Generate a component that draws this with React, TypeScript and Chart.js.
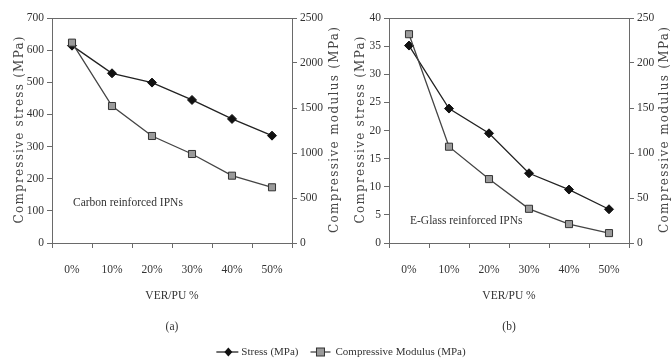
import React, { useEffect, useRef } from 'react';
import { Chart, registerables } from 'chart.js';
Chart.register(...registerables);

const categories = ['0%', '10%', '20%', '30%', '40%', '50%'];
const carbonStress = [614, 528, 499, 445, 386, 334];
const carbonModulus = [2226, 1522, 1189, 989, 748, 619];
const glassStress = [35.1, 23.9, 19.5, 12.4, 9.5, 6.0];
const glassModulus = [232, 107, 71, 38, 21, 11];

const stressLabel = 'Stress (MPa)';
const modulusLabel = 'Compressive Modulus (MPa)';
const stressTitle = 'Compressive stress (MPa)';
const modulusTitle = 'Compressive modulus (MPa)';
const xTitle = 'VER/PU %';

const W = 672;
const H = 363;
const AXIS = '#6a6a6a';
const TEXT = '#333';
const SERIF = '"Liberation Serif", "Times New Roman", serif';
const TICK_FONT = { family: SERIF, size: 11.5 };

type Panel = {
  stress: number[];
  modulus: number[];
  stressMax: number;
  stressStep: number;
  modMax: number;
  modStep: number;
  note: string;
  noteDy: number;
  caption: string;
  pad: { left: number; right: number };
  yW: number;
  y1W: number;
  leftTitleX: number;
  rightTitleX: number;
  legend: boolean;
};

const panels: Panel[] = [
  {
    stress: carbonStress,
    modulus: carbonModulus,
    stressMax: 700,
    stressStep: 100,
    modMax: 2500,
    modStep: 500,
    note: 'Carbon reinforced IPNs',
    noteDy: 40,
    caption: '(a)',
    pad: { left: 0, right: W - 345 },
    yW: 52,
    y1W: 53,
    leftTitleX: 20,
    rightTitleX: 335,
    legend: true,
  },
  {
    stress: glassStress,
    modulus: glassModulus,
    stressMax: 40,
    stressStep: 5,
    modMax: 250,
    modStep: 50,
    note: 'E-Glass reinforced IPNs',
    noteDy: 22,
    caption: '(b)',
    pad: { left: 345, right: 0 },
    yW: 44,
    y1W: 43,
    leftTitleX: 361,
    rightTitleX: 665,
    legend: false,
  },
];

function drawVertical(ctx: CanvasRenderingContext2D, text: string, x: number, cy: number, len: number) {
  ctx.save();
  ctx.translate(x, cy);
  ctx.rotate(-Math.PI / 2);
  ctx.font = '12px "DejaVu Serif", serif';
  (ctx as any).letterSpacing = '0px';
  const w = ctx.measureText(text).width;
  const sp = Math.max(0, (len - w) / (text.length - 1));
  (ctx as any).letterSpacing = sp + 'px';
  ctx.textAlign = 'center';
  ctx.textBaseline = 'middle';
  ctx.fillStyle = '#444';
  ctx.fillText(text, sp / 2, 0);
  ctx.restore();
}

function drawLegend(ctx: CanvasRenderingContext2D) {
  const y = 352;
  ctx.save();
  ctx.font = `11px ${SERIF}`;
  const w1 = ctx.measureText(stressLabel).width;
  const w2 = ctx.measureText(modulusLabel).width;
  const total = 22 + 3 + w1 + 12 + 20 + 5 + w2;
  let x = 341 - total / 2;

  ctx.strokeStyle = '#222';
  ctx.lineWidth = 1.3;
  ctx.beginPath();
  ctx.moveTo(x, y);
  ctx.lineTo(x + 22, y);
  ctx.stroke();
  ctx.fillStyle = '#111';
  const d = x + 12;
  ctx.beginPath();
  ctx.moveTo(d, y - 4.5);
  ctx.lineTo(d + 4, y);
  ctx.lineTo(d, y + 4.5);
  ctx.lineTo(d - 4, y);
  ctx.closePath();
  ctx.fill();
  ctx.fillStyle = TEXT;
  ctx.textAlign = 'left';
  ctx.textBaseline = 'middle';
  x += 25;
  ctx.fillText(stressLabel, x, y);
  x += w1 + 12;

  ctx.strokeStyle = '#444';
  ctx.beginPath();
  ctx.moveTo(x, y);
  ctx.lineTo(x + 20, y);
  ctx.stroke();
  ctx.fillStyle = '#9a9a9a';
  ctx.fillRect(x + 6, y - 4, 8, 8);
  ctx.strokeStyle = '#333';
  ctx.lineWidth = 1;
  ctx.strokeRect(x + 6, y - 4, 8, 8);
  x += 25;
  ctx.fillStyle = TEXT;
  ctx.fillText(modulusLabel, x, y);
  ctx.restore();
}

function makeDecor(p: Panel) {
  return {
    id: 'decor',
    afterDraw(chart: any) {
      const { ctx, chartArea: a } = chart;
      ctx.save();
      ctx.strokeStyle = AXIS;
      ctx.lineWidth = 1;
      ctx.beginPath();
      ctx.moveTo(a.left, Math.round(a.top) + 0.5);
      ctx.lineTo(a.right, Math.round(a.top) + 0.5);
      ctx.stroke();

      ctx.fillStyle = TEXT;
      ctx.font = `11.5px ${SERIF}`;
      ctx.textAlign = 'left';
      ctx.textBaseline = 'middle';
      ctx.fillText(p.note, a.left + 21, a.bottom - p.noteDy);

      const cx = (a.left + a.right) / 2;
      ctx.font = `11.5px ${SERIF}`;
      ctx.textAlign = 'center';
      ctx.fillText(xTitle, cx, 296);
      ctx.fillText(p.caption, cx, 327);
      ctx.restore();

      drawVertical(ctx, stressTitle, p.leftTitleX, 130, 187);
      drawVertical(ctx, modulusTitle, p.rightTitleX, 130, 206);
      if (p.legend) drawLegend(ctx);
    },
  };
}

function makeConfig(p: Panel): any {
  const gridCommon = {
    display: true,
    drawOnChartArea: false,
    drawTicks: true,
    tickLength: 5,
    color: AXIS,
  };
  const fmt = (v: any) => String(v);
  return {
    type: 'line',
    data: {
      labels: categories,
      datasets: [
        {
          label: modulusLabel,
          data: p.modulus,
          yAxisID: 'y1',
          borderColor: '#444',
          borderWidth: 1.3,
          pointStyle: 'rect',
          pointRadius: 5,
          pointBackgroundColor: '#9a9a9a',
          pointBorderColor: '#333',
          pointBorderWidth: 1,
          tension: 0,
        },
        {
          label: stressLabel,
          data: p.stress,
          yAxisID: 'y',
          borderColor: '#222',
          borderWidth: 1.3,
          pointStyle: 'rectRot',
          pointRadius: 4.5,
          pointBackgroundColor: '#111',
          pointBorderColor: '#111',
          pointBorderWidth: 1,
          tension: 0,
        },
      ],
    },
    options: {
      responsive: false,
      animation: false,
      devicePixelRatio: 1,
      layout: { padding: { left: p.pad.left, right: p.pad.right, top: 18, bottom: 0 } },
      plugins: { legend: { display: false }, tooltip: { enabled: false } },
      scales: {
        x: {
          type: 'category',
          offset: true,
          grid: { ...gridCommon, offset: true },
          border: { display: true, color: AXIS, width: 1 },
          ticks: { color: TEXT, font: TICK_FONT, padding: 15, maxRotation: 0 },
          afterFit(s: any) {
            s.height = H - 243;
          },
        },
        y: {
          position: 'left',
          min: 0,
          max: p.stressMax,
          grid: gridCommon,
          border: { display: true, color: AXIS, width: 1 },
          ticks: { stepSize: p.stressStep, color: TEXT, font: TICK_FONT, padding: 3, callback: fmt },
          afterFit(s: any) {
            s.width = p.yW;
          },
        },
        y1: {
          position: 'right',
          min: 0,
          max: p.modMax,
          grid: gridCommon,
          border: { display: true, color: AXIS, width: 1 },
          ticks: { stepSize: p.modStep, color: TEXT, font: TICK_FONT, padding: 3, callback: fmt },
          afterFit(s: any) {
            s.width = p.y1W;
          },
        },
      },
    },
    plugins: [makeDecor(p)],
  };
}

export default function App() {
  const r0 = useRef<HTMLCanvasElement>(null);
  const r1 = useRef<HTMLCanvasElement>(null);
  useEffect(() => {
    const charts = [r0, r1].map((r, i) => new Chart(r.current as HTMLCanvasElement, makeConfig(panels[i])));
    return () => charts.forEach((c) => c.destroy());
  }, []);
  const cs: React.CSSProperties = { position: 'absolute', left: 0, top: 0, width: W, height: H };
  return (
    <div style={{ position: 'fixed', left: 0, top: 0, width: W, height: H, background: '#fff', overflow: 'hidden' }}>
      <canvas ref={r0} width={W} height={H} style={cs} />
      <canvas ref={r1} width={W} height={H} style={cs} />
    </div>
  );
}
